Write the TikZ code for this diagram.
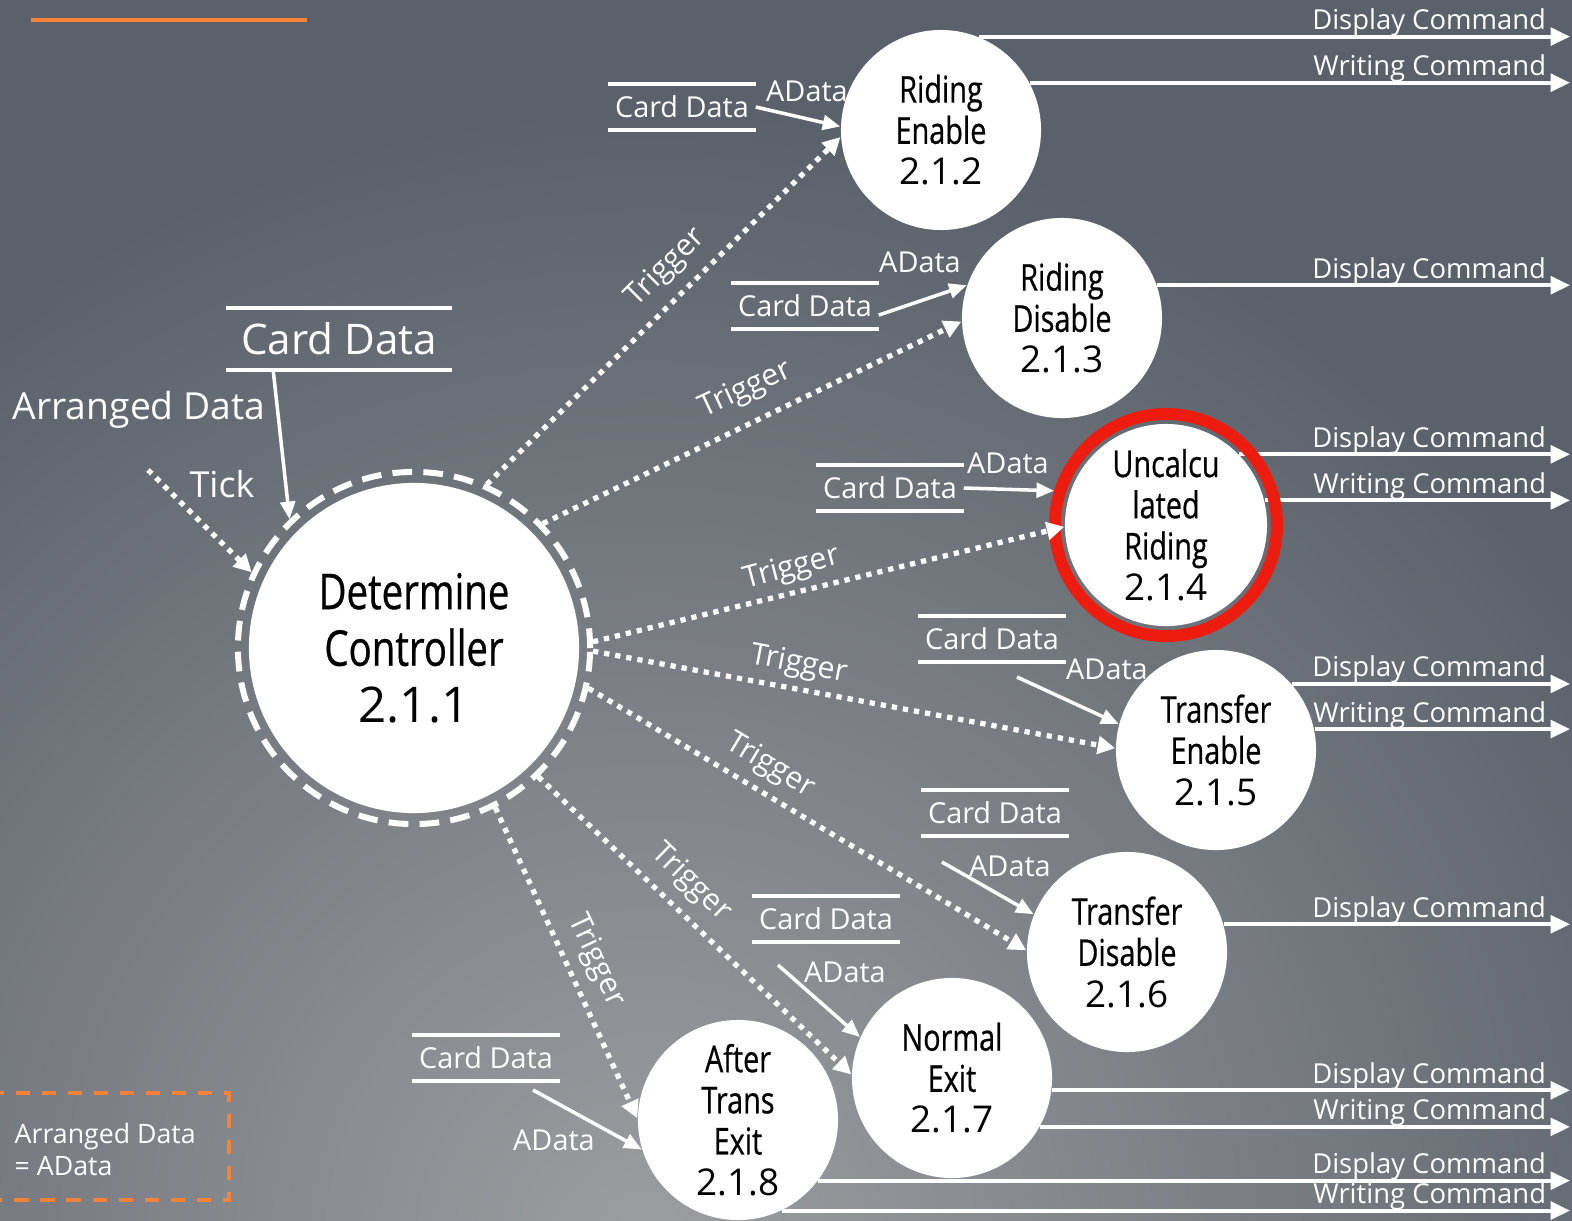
\documentclass[tikz,border=0pt]{standalone}
\usepackage{fontspec}
\usetikzlibrary{arrows.meta}
\newfontfamily\labfont{Open Sans}
\newfontfamily\procfont[FakeStretch=0.78,FakeBold=0.6]{Open Sans}
\newcommand{\pid}[1]{{\labfont #1}}
\definecolor{bgtop}{RGB}{90,97,106}
\definecolor{bgmid}{RGB}{122,126,132}
\definecolor{bglow}{RGB}{156,158,161}
\definecolor{legorange}{RGB}{245,130,55}
\definecolor{ringred}{RGB}{238,28,14}
\pgfdeclareradialshading{bgglow}{\pgfpoint{0bp}{0bp}}{color(0bp)=(bglow); color(10bp)=(bgmid); color(19bp)=(bgtop); color(50bp)=(bgtop)}

\begin{document}
\begin{tikzpicture}[x=0.01cm, y=-0.01cm]
    \tikzstyle{proc}=[circle, fill=white, text=black, inner sep=0pt, minimum size=2cm,
        align=center, font=\procfont\fontsize{10.5}{11.7}\selectfont]
    \tikzstyle{store}=[text=white, inner sep=0pt, minimum width=1.46cm, minimum height=0.45cm,
        font=\labfont\fontsize{8.2}{10}\selectfont,
        append after command={(\tikzlastnode.north west) edge[white, line width=1.1pt] (\tikzlastnode.north east)
            (\tikzlastnode.south west) edge[white, line width=1.1pt] (\tikzlastnode.south east)}]
    \tikzstyle{lab}=[text=white, inner sep=0pt, font=\labfont\fontsize{8.2}{10}\selectfont]
    \tikzstyle{cmd}=[lab, font=\labfont\fontsize{7.8}{10}\selectfont, anchor=base east, xshift=-0.22cm, yshift=0.07cm]
    \tikzstyle{trig}=[white, line width=1.5pt, dash pattern=on 1.5pt off 1.7pt,
        -{Triangle[length=5pt,width=5pt]}]
    \tikzstyle{dflow}=[white, line width=1pt, -{Triangle[length=5pt,width=4.2pt]}]
    \tikzstyle{outa}=[white, line width=1.1pt, -{Triangle[length=5.5pt,width=5pt]}]

    \useasboundingbox (0,0) rectangle (1572,1220);
    \fill[bgtop] (0,0) rectangle (1572,1220);
    \begin{scope}
        \clip (0,0) rectangle (1572,1220);
        \shade[shading=bgglow] (650,1250) circle[radius=15cm];
    \end{scope}
    \draw[legorange, line width=1pt] (31,20) -- (307,20);

    %-----processes
    \node[proc, minimum size=3.3cm, font=\procfont\fontsize{14}{16.1}\selectfont] (dc) at (414,648) {Determine\\Controller\\\pid{2.1.1}};
    \node[circle, draw=white, line width=1.7pt, dash pattern=on 5.6pt off 3.2pt, minimum size=3.52cm] (dcr) at (dc) {};
    \node[proc] (ren) at (941,130) {Riding\\Enable\\\pid{2.1.2}};
    \node[proc] (rdis) at (1062,318) {Riding\\Disable\\\pid{2.1.3}};
    \node[proc, minimum size=2.02cm] (unc) at (1166,525) {Uncalcu\\lated\\Riding\\\pid{2.1.4}};
    \node[proc] (ten) at (1216,750) {Transfer\\Enable\\\pid{2.1.5}};
    \node[proc] (tdis) at (1127,952) {Transfer\\Disable\\\pid{2.1.6}};
    \node[proc] (nex) at (952,1078) {Normal\\Exit\\\pid{2.1.7}};
    \node[proc] (atx) at (738,1120) {After\\Trans\\Exit\\\pid{2.1.8}};

    %-----outputs
    \coordinate (outx) at (1570,0);
    \foreach \n/\a/\txt in {ren/68/Display Command, ren/28/Writing Command, rdis/19/Display Command,
        unc/44/Display Command, unc/14/Writing Command, ten/41/Display Command, ten/12/Writing Command,
        tdis/16/Display Command, nex/-7/Display Command, nex/-29/Writing Command,
        atx/-37/Display Command, atx/-64/Writing Command}
        \draw[outa] (\n.\a) -- (\n.\a -| outx) node[cmd] {\txt};
    \node[circle, draw=ringred, line width=3.4pt, minimum size=2.22cm] (uncr) at (unc) {};

    %-----stores
    \node[store, minimum width=2.24cm, minimum height=0.6cm, font=\labfont\fontsize{12}{14}\selectfont] (cd) at (339,339) {Card Data};
    \node[store] (cdren) at (682,107) {Card Data};
    \node[store] (cdrdis) at (805,306) {Card Data};
    \node[store] (cdunc) at (890,488) {Card Data};
    \node[store] (cdten) at (992,639) {Card Data};
    \node[store] (cdtdis) at (995,813) {Card Data};
    \node[store] (cdnex) at (826,919) {Card Data};
    \node[store] (cdatx) at (486,1058) {Card Data};

    %-----labels
    \node[lab, font=\labfont\fontsize{10.6}{12}\selectfont] (arr) at (139,410) {Arranged Data};
    \node[lab, font=\labfont\fontsize{10.2}{12}\selectfont] (tick) at (222,484) {Tick};
    \foreach \x/\y/\n in {807/91/a1, 920/262/a2, 1008/463/a3, 1107/669/a4, 1010/866/a5, 845/972/a6, 554/1140/a7}
        \node[lab] (\n) at (\x,\y) {AData};
    \foreach \x/\y/\r/\n in {666/268/45/t1, 746/390/25/t2, 792/569/15/t3, 799/665/-11/t4, 770/766/-31/t5, 691/883/-44/t6, 596/961/-65/t7}
        \node[lab, font=\labfont\fontsize{8.6}{10}\selectfont, rotate=\r] (\n) at (\x,\y) {Trigger};

    %-----flows
    \coordinate (tk) at (148,470);
    \coordinate (adten) at (1017,677);
    \coordinate (adtdis) at (942,862);
    \coordinate (adnex) at (778,965);
    \coordinate (adatx) at (533,1090);
    \draw[dflow] (cd.205) -- (dcr.134);
    \draw[trig] (tk) -- (dcr.155);
    \foreach \a/\to/\b in {66/ren/184, 44/rdis/182, 2/unc/181, -1/ten/179, -13/tdis/179, -46/nex/178, -63/atx/179}
        \draw[trig] (dcr.\a) -- (\to.\b);
    \foreach \from/\to in {cdren.east/ren.178, cdrdis.-7/rdis.161, cdunc.east/uncr.163, adten/ten.165,
        adtdis/tdis.158, adnex/nex.156, adatx/atx.197}
        \draw[dflow] (\from) -- (\to);

    %-----legend
    \draw[legorange, line width=1.1pt, dash pattern=on 4pt off 3.4pt] (-10,1093) -- (229,1093) -- (229,1200) -- (-10,1200);
    \node[lab, anchor=west, align=left, font=\labfont\fontsize{7.6}{9.1}\selectfont] (leg) at (14,1149) {Arranged Data\\= AData};
\end{tikzpicture}
\end{document}
